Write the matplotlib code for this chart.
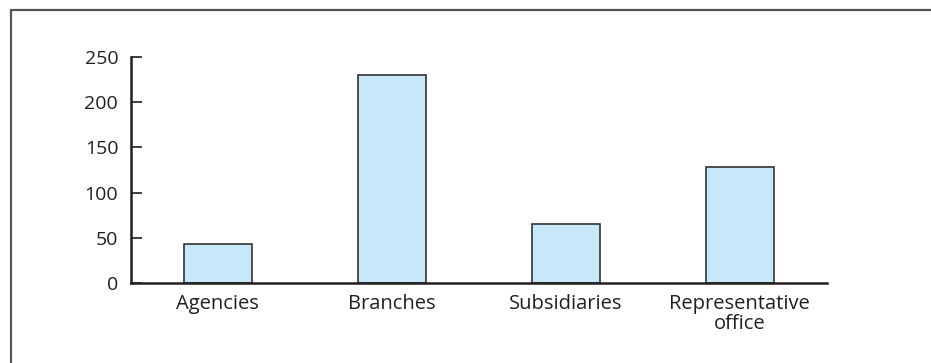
import matplotlib.pyplot as plt
from matplotlib.patches import Rectangle

# Foreign bank presence by type of office
categories = ['Agencies', 'Branches', 'Subsidiaries', 'Representative\noffice']
counts = [43, 230, 65, 128]
yticks = [0, 50, 100, 150, 200, 250]

W, H = 931, 363
fig = plt.figure(figsize=(W / 100, H / 100), dpi=100)
plt.rcParams['font.family'] = ['Open Sans', 'DejaVu Sans']

# outer box around the figure (runs off the right and bottom edges)
fig.patches.append(Rectangle((11 / W, -0.1), 1.0, 1 - 10 / H + 0.1,
                             transform=fig.transFigure, fill=False,
                             edgecolor='#555555', linewidth=1.6))

left, right = 130.7 / W, 826.7 / W
bottom, top = 1 - 283 / H, 1 - 57 / H
ax = fig.add_axes([left, bottom, right - left, top - bottom])

x = range(len(categories))
ax.bar(x, counts, width=0.39, color='#c6e8f8', edgecolor='#333333',
       linewidth=1.2, zorder=2)

ax.set_xlim(-0.5, 3.5)
ax.set_ylim(0, 250)
ax.set_yticks(yticks)
ax.set_xticks(list(x))
ax.set_xticklabels(categories, fontsize=14.5, color='#231f20', linespacing=1.0)
ax.tick_params(axis='y', direction='in', length=8, width=1.2, color='#231f20',
               labelsize=14, labelcolor='#231f20', pad=9)
ax.tick_params(axis='x', length=0, pad=8)

for side in ('top', 'right'):
    ax.spines[side].set_visible(False)
for side in ('left', 'bottom'):
    ax.spines[side].set_linewidth(1.8)
    ax.spines[side].set_color('#231f20')

fig.savefig('out.png', dpi=100)
